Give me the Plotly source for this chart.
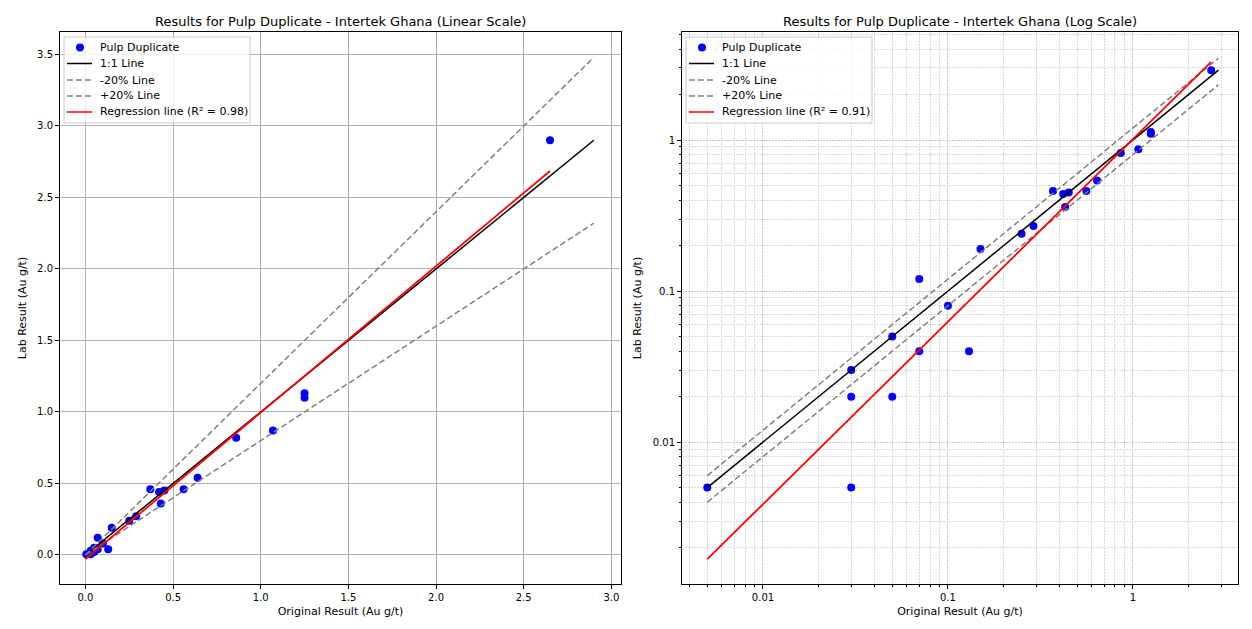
import numpy as np
import plotly.graph_objects as go

# Data (Au g/t)
original = [0.005, 0.03, 0.03, 0.03, 0.05, 0.05, 0.07, 0.07, 0.10, 0.13, 0.15, 0.25,
            0.29, 0.37, 0.42, 0.45, 0.43, 0.56, 0.64, 0.86, 1.07, 1.25, 1.25, 2.65]
lab = [0.005, 0.03, 0.02, 0.005, 0.05, 0.02, 0.12, 0.04, 0.08, 0.04, 0.19, 0.24,
       0.27, 0.46, 0.44, 0.45, 0.36, 0.46, 0.54, 0.82, 0.87, 1.13, 1.10, 2.90]
series_name = "Pulp Duplicate"
lab_name = "Intertek Ghana"

# Regression lines (end points) and their R² labels
reg_lin_x = [0.0, 2.65]
reg_lin_y = [-0.028, 2.685]
r2_lin_label = "0.98"
reg_log_x = [0.005, 2.65]
reg_log_y = [0.00168, 3.29]
r2_log_label = "0.91"

lin_xticks = [0, 0.5, 1, 1.5, 2, 2.5, 3]
lin_yticks = [0, 0.5, 1, 1.5, 2, 2.5, 3, 3.5]
log_ticks = [0.01, 0.1, 1]
log_ticktext = ["0.01", "0.1", "1"]

x = np.array(original)
y = np.array(lab)

lo = min(x.min(), y.min())
hi = max(x.max(), y.max())
ref_lin = np.array([0.0, hi])
ref_log = np.array([lo, hi])

FONT = "DejaVu Sans"
BLUE, GRAY, RED = "#0000ff", "gray", "red"
DASH = "6px,3px"
fig = go.Figure()

def add_set(xa, ya, refx, xr, yr):
    fig.add_trace(go.Scatter(x=x, y=y, mode="markers", name=series_name,
                             marker=dict(color=BLUE, size=8, line=dict(width=0)),
                             xaxis=xa, yaxis=ya, showlegend=False))
    fig.add_trace(go.Scatter(x=refx, y=refx, mode="lines", name="1:1 Line",
                             line=dict(color="black", width=1.5),
                             xaxis=xa, yaxis=ya, showlegend=False))
    fig.add_trace(go.Scatter(x=refx, y=refx * 0.8, mode="lines", name="-20% Line",
                             line=dict(color=GRAY, width=1.5, dash=DASH),
                             xaxis=xa, yaxis=ya, showlegend=False))
    fig.add_trace(go.Scatter(x=refx, y=refx * 1.2, mode="lines", name="+20% Line",
                             line=dict(color=GRAY, width=1.5, dash=DASH),
                             xaxis=xa, yaxis=ya, showlegend=False))
    fig.add_trace(go.Scatter(x=xr, y=yr, mode="lines", name="Regression line",
                             line=dict(color=RED, width=1.8),
                             xaxis=xa, yaxis=ya, showlegend=False))

add_set("x", "y", ref_lin, reg_lin_x, reg_lin_y)
add_set("x2", "y2", ref_log, reg_log_x, reg_log_y)

# Page has an 8px body margin; figure sized so that the plot areas land where the reference has them
OFF = 8
W, H = 1252 - 2 * OFF, 629 - 2 * OFF
PL, PR, PT, PB = 60, 1238, 32, 584          # plot-area extents in window pixels
ml, mt = PL - OFF, PT - OFF
pw, ph = PR - PL, PB - PT
mr = W - ml - pw
mb = H - mt - ph

def px(v):
    return (v - PL) / pw

def py(v):
    return (PB - v) / ph

d1 = [0, px(621)]
d2 = [px(682), 1]

axis_common = dict(showline=True, linecolor="black", linewidth=1, mirror=True,
                   ticks="outside", ticklen=4, tickcolor="black", zeroline=False,
                   automargin=False,
                   tickfont=dict(family=FONT, size=10, color="black"))

lin_grid = dict(showgrid=True, gridcolor="#b0b0b0", gridwidth=1)
log_minor = dict(dtick="D1", showgrid=True, gridcolor="#d8d8d8", griddash="2px,1px",
                 gridwidth=0.6, ticks="outside", ticklen=2, tickcolor="black")
log_major_grid = dict(showgrid=True, gridcolor="#c8c8c8", griddash="2px,1px", gridwidth=0.8)

title_font = dict(family=FONT, size=11)

fig.update_layout(
    width=W, height=H, margin=dict(l=ml, r=mr, t=mt, b=mb, autoexpand=False),
    plot_bgcolor="white", paper_bgcolor="white",
    font=dict(family=FONT, size=11, color="black"),
    showlegend=False,
    xaxis=dict(domain=d1, range=[-0.145, 3.055], tickvals=lin_xticks,
               tickformat=".1f", anchor="y",
               title=dict(text="Original Result (Au g/t)", font=title_font, standoff=5),
               **lin_grid, **axis_common),
    yaxis=dict(domain=[0, 1], range=[-0.203, 3.657], tickvals=lin_yticks,
               tickformat=".1f", anchor="x",
               title=dict(text="Lab Result (Au g/t)", font=title_font, standoff=8),
               **lin_grid, **axis_common),
    xaxis2=dict(domain=d2, type="log", range=[np.log10(0.00365), np.log10(3.70)],
                tickvals=log_ticks, ticktext=log_ticktext, anchor="y2",
                minor=log_minor,
                title=dict(text="Original Result (Au g/t)", font=title_font, standoff=5),
                **log_major_grid, **axis_common),
    yaxis2=dict(domain=[0, 1], type="log", range=[np.log10(0.00115), np.log10(5.19)],
                tickvals=log_ticks, ticktext=log_ticktext, anchor="x2",
                minor=log_minor,
                title=dict(text="Lab Result (Au g/t)", font=title_font, standoff=8),
                **log_major_grid, **axis_common),
)

titles = [(f"Results for {series_name} - {lab_name} (Linear Scale)", (60 + 621) / 2),
          (f"Results for {series_name} - {lab_name} (Log Scale)", (682 + 1238) / 2)]
for text, cx in titles:
    fig.add_annotation(text=text, x=px(cx), xref="paper", y=py(21), yref="paper",
                       xanchor="center", yanchor="middle", showarrow=False,
                       font=dict(family=FONT, size=13, color="black"))

# Legends drawn in matplotlib style (compact rows)
def draw_legend(x0, r2):
    box_r = x0 + 186
    fig.add_shape(type="rect", xref="paper", yref="paper", layer="above",
                  x0=px(x0), x1=px(box_r), y0=py(123), y1=py(37),
                  line=dict(color="#cccccc", width=1), fillcolor="rgba(255,255,255,0.8)")
    rows = [47.5, 63.5, 80, 96, 112]
    labels = [series_name, "1:1 Line", "-20% Line", "+20% Line",
              f"Regression line (R\u00b2 = {r2})"]
    styles = [None, ("black", "solid"), (GRAY, DASH), (GRAY, DASH), (RED, "solid")]
    for ry, lab_txt, st in zip(rows, labels, styles):
        if st is None:
            cx = x0 + 16
            fig.add_shape(type="circle", xref="paper", yref="paper", layer="above",
                          x0=px(cx - 4), x1=px(cx + 4), y0=py(ry + 4), y1=py(ry - 4),
                          line=dict(width=0), fillcolor=BLUE)
        else:
            fig.add_shape(type="line", xref="paper", yref="paper", layer="above",
                          x0=px(x0 + 3), x1=px(x0 + 28), y0=py(ry), y1=py(ry),
                          line=dict(color=st[0], width=1.5, dash=st[1]))
        fig.add_annotation(text=lab_txt, x=px(x0 + 34), xref="paper", y=py(ry), yref="paper",
                           xanchor="left", yanchor="middle", showarrow=False,
                           font=dict(family=FONT, size=11, color="black"))

draw_legend(64, r2_lin_label)
draw_legend(686, r2_log_label)

fig.write_html("out.html")
